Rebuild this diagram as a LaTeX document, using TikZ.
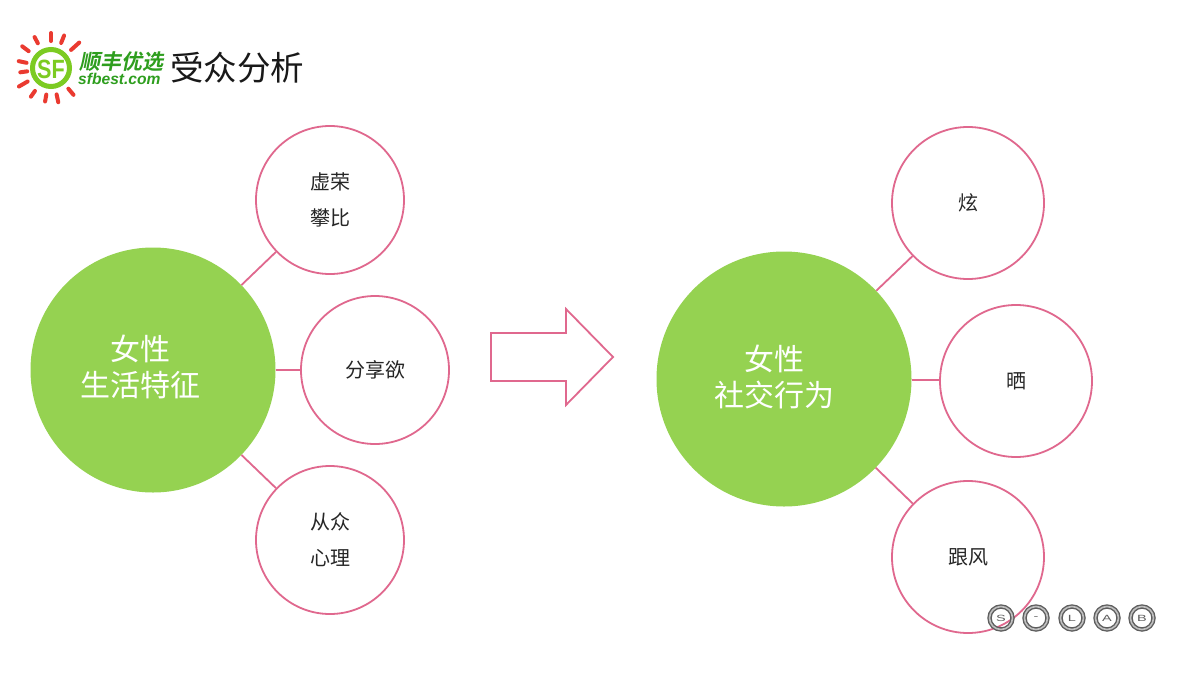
\documentclass[tikz,border=0pt]{standalone}
\usepackage{graphicx}
\usepackage{fontspec}
\setmainfont{Liberation Sans}
\newfontfamily\cjk{Noto Sans CJK SC}
\newfontfamily\cjkslant{Noto Sans CJK SC Bold}[FakeSlant=0.2]
\definecolor{pinkline}{HTML}{E0688E}
\definecolor{leaf}{HTML}{95D251}
\definecolor{logogreen}{HTML}{2E9E1E}
\definecolor{logolime}{HTML}{7CCB22}
\definecolor{sunred}{HTML}{EA3A30}
\definecolor{ringgray}{HTML}{5E5E5E}
\tikzset{
  bigc/.style={circle,fill=leaf,minimum size=#1,inner sep=0pt},
  bigt/.style={align=center,text=white,inner sep=0pt,font=\cjk\fontsize{30}{36}\selectfont},
  smallc/.style={circle,draw=pinkline,line width=1.8pt,fill=white,minimum size=#1,inner sep=0pt,align=center,text=black!85,font=\cjk\fontsize{20}{36}\selectfont},
  link/.style={draw=pinkline,line width=1.8pt},
  slabc/.style={circle,draw=ringgray,line width=1.4pt,double=white!75!black,double distance=1.6pt,minimum size=23pt,inner sep=0pt,text=ringgray,font=\fontsize{10}{12}\selectfont},
  ray/.style={draw=sunred,line width=4pt,line cap=round}
}
\newcommand{\wideletter}[1]{\scalebox{1.45}[0.9]{#1}}
\begin{document}
\begin{tikzpicture}[x=1pt,y=-1pt]
\useasboundingbox (0,0) rectangle (1200,675);
\fill[white] (0,0) rectangle (1200,675);
% logo
\coordinate (sun) at (51,68);
\foreach \a/\rin/\rout in {-90/27/35,-68/27/35,-42/27/38,-118/28/35,-143/28/36,-168/25/33,172/24/31,150/27/37,125/28/35,100/27/34,78/27/35,50/27/35}{
  \draw[ray] (sun) ++(\a:\rin) -- ++(\a:\rout-\rin);
}
\node[circle,draw=logolime,line width=5pt,fill=white,minimum size=37pt,inner sep=0pt] (logoring) at (sun) {};
\node[text=logolime,font=\bfseries\fontsize{24}{24}\selectfont,inner sep=0pt] (logosf) at (51,69) {\scalebox{0.9}[1.1]{SF}};
\node[anchor=west,inner sep=0pt,text=logogreen,font=\cjkslant\fontsize{21}{21}\selectfont] (logocn) at (79,62) {顺丰优选};
\node[anchor=west,inner sep=0pt,text=logogreen,font=\bfseries\itshape\fontsize{15.6}{18}\selectfont] (logoen) at (78,79) {sfbest.com};
\node[anchor=west,inner sep=0pt,text=black!90,font=\cjk\fontsize{33.5}{36}\selectfont] (title) at (170,68) {受众分析};
% left cluster
\node[bigc=245pt] (left) at (153,370) {};
\node[bigt] (lefttext) at (140,367) {女性\\生活特征};
\node[smallc=148pt] (l1) at (330,200) {虚荣\\攀比};
\node[smallc=148pt] (l2) at (375,370) {分享欲};
\node[smallc=148pt] (l3) at (330,540) {从众\\心理};
\draw[link] (left) -- (l1);
\draw[link] (left) -- (l2);
\draw[link] (left) -- (l3);
% arrow
\draw[draw=pinkline,line width=1.8pt,miter limit=10] (491,333) -- (566,333) -- (566,309) -- (613,357) -- (566,405) -- (566,381) -- (491,381) -- cycle;
% right cluster
\node[bigc=255pt] (right) at (784,379) {};
\node[bigt] (righttext) at (774,377) {女性\\社交行为};
\node[smallc=152pt] (r1) at (968,203) {炫};
\node[smallc=152pt] (r2) at (1016,381) {晒};
\node[smallc=152pt] (r3) at (968,557) {跟风};
\draw[link] (right) -- (r1);
\draw[link] ([yshift=-1pt]right.east) -- ([yshift=1pt]r2.west);
\draw[link] (right) -- (r3);
% s-lab
\node[slabc] (s1) at (1001,618) {\wideletter{S}};
\node[slabc] (s2) at (1036,618) {\wideletter{-}};
\node[slabc] (s3) at (1072,618) {\wideletter{L}};
\node[slabc] (s4) at (1107,618) {\wideletter{A}};
\node[slabc] (s5) at (1142,618) {\wideletter{B}};
\end{tikzpicture}
\end{document}
